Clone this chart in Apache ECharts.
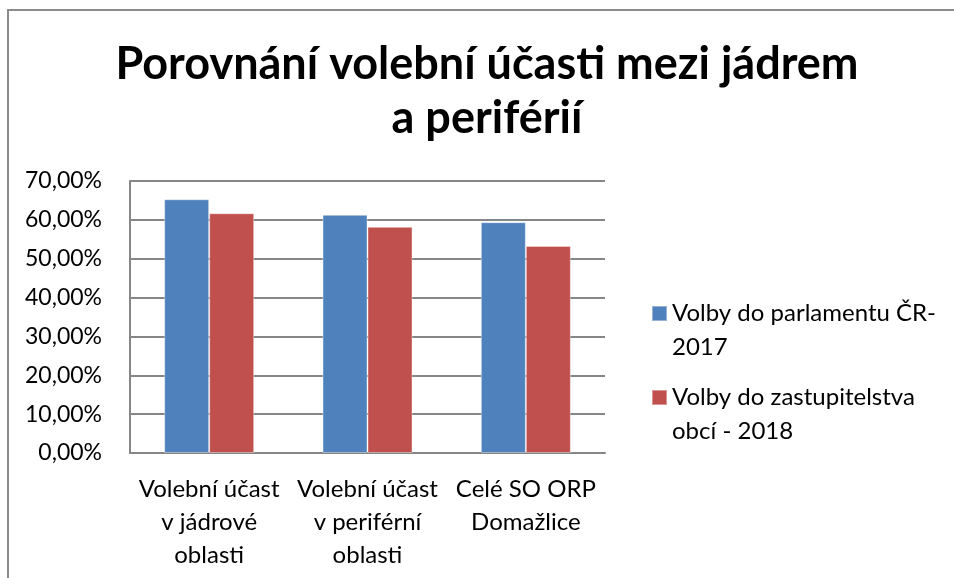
<!DOCTYPE html>
<html>
<head>
<meta charset="utf-8">
<script src="https://cdn.jsdelivr.net/npm/echarts@6/dist/echarts.min.js"></script>
<style>
  html, body { margin: 0; padding: 0; background: #fff; }
  #chart { width: 954px; height: 578px; }
</style>
</head>
<body>
<div id="chart"></div>
<script>
// data
var categories = ['Volební účast\nv jádrové\noblasti', 'Volební účast\nv periférní\noblasti', 'Celé SO ORP\nDomažlice'];
var seriesNames = ['Volby do parlamentu ČR-\n2017', 'Volby do zastupitelstva\nobcí - 2018'];
var parlament2017 = [0.653, 0.613, 0.594];
var obce2018 = [0.617, 0.582, 0.533];
var yTicks = [0, 0.1, 0.2, 0.3, 0.4, 0.5, 0.6, 0.7];

var font = 'Lato';
var gray = '#868686';

var myChart = echarts.init(document.getElementById('chart'));
var option = {
    backgroundColor: '#fff',
    animation: false,
    textStyle: { fontFamily: font },
    color: ['#4F81BD', '#C0504D'],
    title: {
        text: 'Porovnání volební účasti mezi jádrem\na periférií',
        left: 487,
        textAlign: 'center',
        top: 37,
        padding: 0,
        textStyle: {
            fontFamily: font,
            fontSize: 45,
            fontWeight: 'bold',
            color: '#000',
            lineHeight: 54
        }
    },
    //边框
    graphic: [{
        type: 'rect',
        shape: { x: 8, y: 10, width: 980, height: 620 },
        style: { fill: null, stroke: '#8a8a8a', lineWidth: 2 },
        silent: true
    }],
    legend: {
        orient: 'vertical',
        left: 651,
        top: 295,
        padding: 0,
        itemGap: 14,
        itemWidth: 15,
        itemHeight: 68,
        icon: 'path://M0,10 L15,10 L15,25 L0,25 Z M0,0 M15,68',
        data: seriesNames,
        textStyle: {
            fontFamily: font,
            fontSize: 24,
            color: '#000',
            lineHeight: 34
        }
    },
    grid: {
        left: 130,
        right: 349,
        top: 181,
        bottom: 125
    },
    xAxis: {
        type: 'category',
        data: categories,
        axisLine: { lineStyle: { color: gray, width: 2 } },
        axisTick: { show: false },
        axisLabel: {
            interval: 0,
            margin: 20,
            fontFamily: font,
            fontSize: 24,
            lineHeight: 33,
            color: '#000'
        }
    },
    yAxis: {
        type: 'value',
        min: 0,
        max: 0.7,
        interval: 0.1,
        axisLine: { show: true, lineStyle: { color: gray, width: 2 } },
        axisTick: { show: false },
        splitLine: { lineStyle: { color: gray, width: 2 } },
        axisLabel: {
            margin: 28,
            fontFamily: font,
            fontSize: 23,
            color: '#000',
            formatter: function (v) {
                var t = yTicks.reduce(function (a, b) { return Math.abs(b - v) < Math.abs(a - v) ? b : a; });
                return (t * 100).toFixed(2).replace('.', ',') + '%';
            }
        }
    },
    series: [
        {
            name: seriesNames[0],
            type: 'bar',
            barWidth: 45,
            barGap: '0%',
            itemStyle: { borderColor: 'rgba(255,255,255,0.4)', borderWidth: 1 },
            data: parlament2017
        },
        {
            name: seriesNames[1],
            type: 'bar',
            barWidth: 45,
            barGap: '0%',
            itemStyle: { borderColor: 'rgba(255,255,255,0.4)', borderWidth: 1 },
            data: obce2018
        }
    ]
};
myChart.setOption(option);
</script>
</body>
</html>
